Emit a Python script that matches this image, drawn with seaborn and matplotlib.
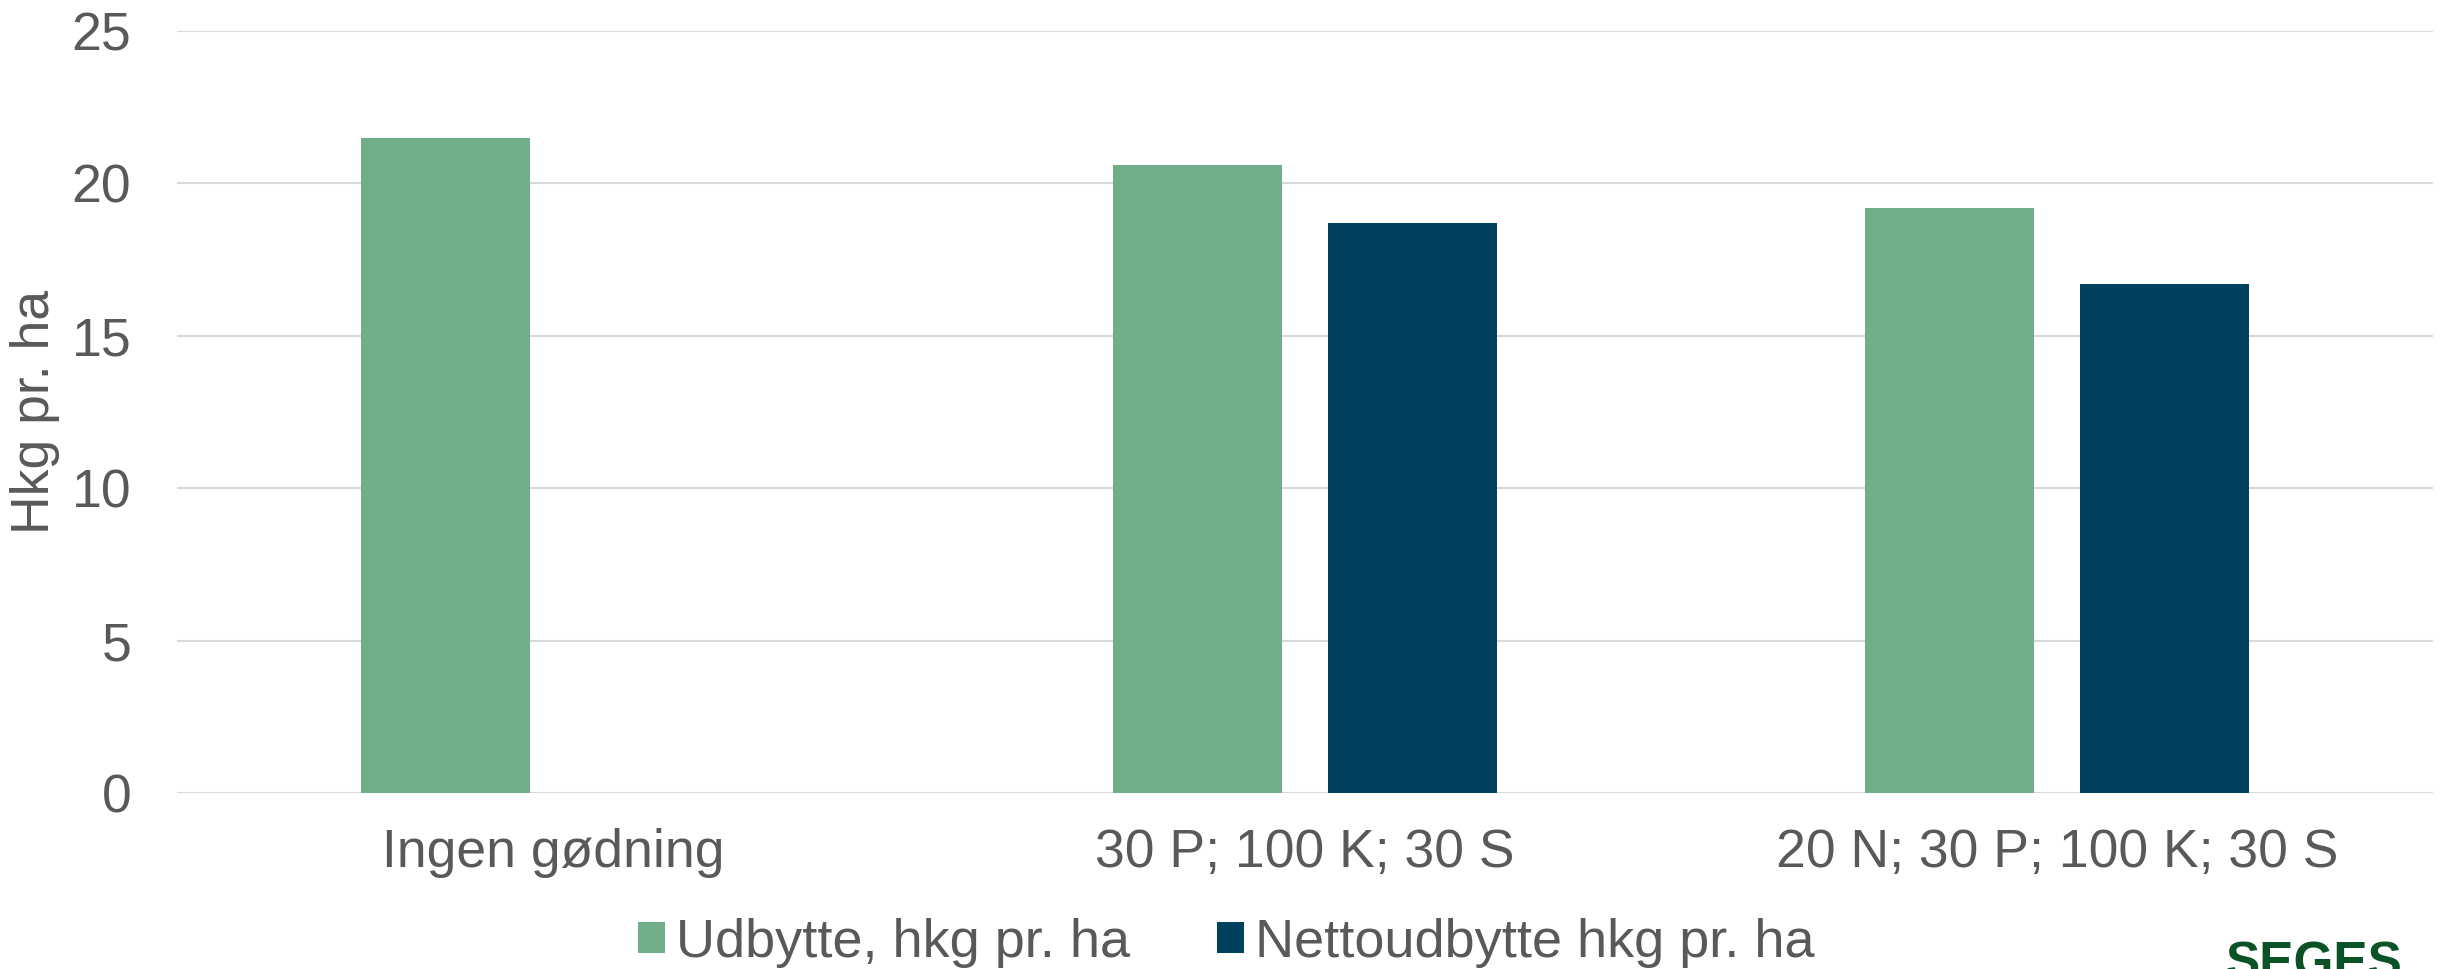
import pandas as pd
import seaborn as sns
import matplotlib.pyplot as plt

categories = ["Ingen gødning", "30 P; 100 K; 30 S", "20 N; 30 P; 100 K; 30 S"]
series = ["Udbytte, hkg pr. ha", "Nettoudbytte hkg pr. ha"]
udbytte = [21.5, 20.6, 19.2]
netto = [None, 18.7, 16.7]
colors = ["#72ad8a", "#00425e"]

rows = []
for cat, u, n in zip(categories, udbytte, netto):
    rows.append((cat, series[0], u))
    if n is not None:
        rows.append((cat, series[1], n))
df = pd.DataFrame(rows, columns=["kategori", "serie", "vaerdi"])

sns.set_style("white")
plt.rcParams["font.family"] = ["Liberation Sans", "DejaVu Sans"]

fig = plt.figure(figsize=(24.53, 9.69), dpi=100)
ax = fig.add_axes([0.0722, 0.1816, 0.9196, 0.7864])

sns.barplot(data=df, x="kategori", y="vaerdi", hue="serie", order=categories,
            hue_order=series, palette=colors, saturation=1, width=0.571,
            gap=0.214, linewidth=0, ax=ax, legend=True)

ax.set_xlim(-0.5, 2.5)
ax.set_ylim(0, 25)
ax.set_yticks([0, 5, 10, 15, 20, 25])
ax.grid(axis="y", color="#d9d9d9", linewidth=1.5)
ax.set_axisbelow(True)
for s in ax.spines.values():
    s.set_visible(False)

ax.tick_params(axis="both", length=0, labelsize=38.5, labelcolor="#595959")
ax.tick_params(axis="x", pad=25)
ax.tick_params(axis="y", pad=33)
ax.set_xlabel("")
ax.set_ylabel("Hkg pr. ha", fontsize=38.5, color="#595959")
ax.yaxis.set_label_coords(-0.052, 0.5)

handles, labels = ax.get_legend_handles_labels()
ax.get_legend().remove()
fig.legend(handles, labels, loc="center", bbox_to_anchor=(0.5, 0.027), ncol=2,
           frameon=False, fontsize=39, labelcolor="#595959",
           handlelength=0.5, handleheight=0.5, handletextpad=0.2,
           columnspacing=1.6, borderpad=0)

fig.text(2226 / 2453, -0.0103, "SEGES", fontsize=37, fontweight="bold",
         color="#0b5226", ha="left", va="baseline")

fig.savefig("out.png", dpi=100)
